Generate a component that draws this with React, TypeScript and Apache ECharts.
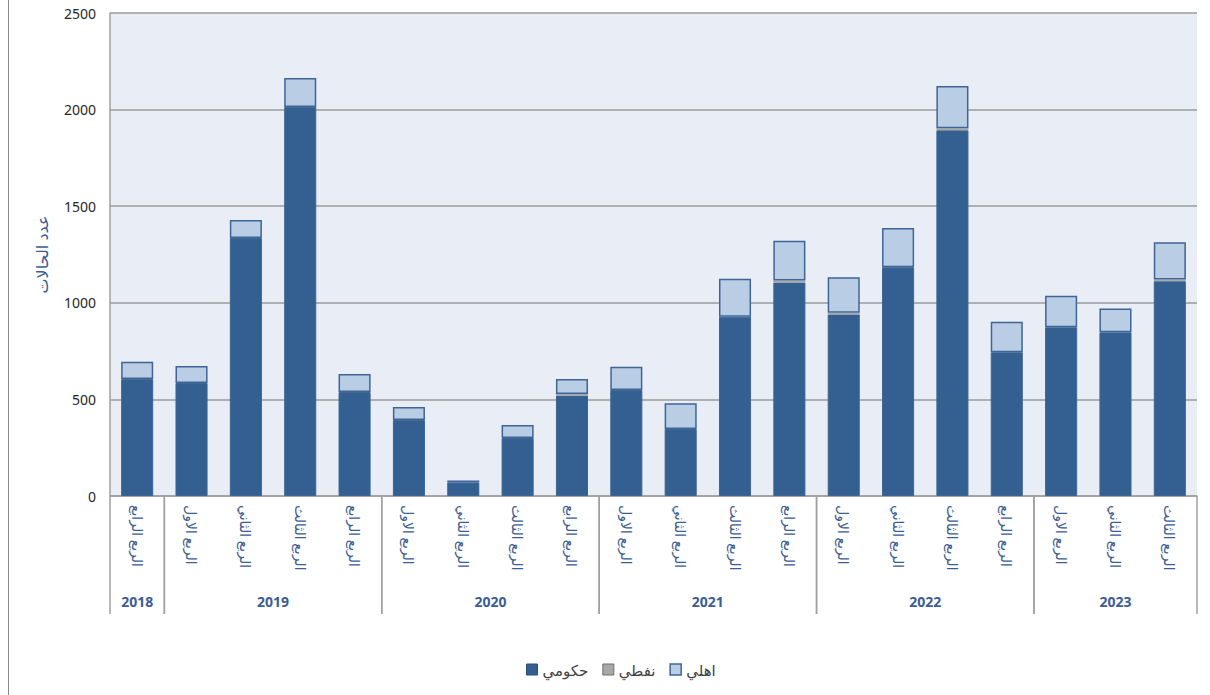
import React, { useEffect, useRef } from "react";
import * as echarts from "echarts";

const quarters = [
  "الربع الرابع",
  "الربع الاول", "الربع الثاني", "الربع الثالث", "الربع الرابع",
  "الربع الاول", "الربع الثاني", "الربع الثالث", "الربع الرابع",
  "الربع الاول", "الربع الثاني", "الربع الثالث", "الربع الرابع",
  "الربع الاول", "الربع الثاني", "الربع الثالث", "الربع الرابع",
  "الربع الاول", "الربع الثاني", "الربع الثالث",
];
const years = ["2018", "2019", "2020", "2021", "2022", "2023"];
const quartersPerYear = [1, 4, 4, 4, 4, 3];

const government = [605, 585, 1335, 2013, 538, 393, 70, 300, 520, 549, 347, 928, 1105, 940, 1184, 1893, 744, 873, 847, 1112];
const oil = [0, 0, 0, 0, 0, 0, 0, 0, 8, 0, 0, 0, 10, 8, 0, 10, 0, 0, 0, 8];
const privateSector = [90, 88, 93, 150, 93, 68, 10, 67, 77, 120, 133, 197, 206, 184, 203, 219, 158, 164, 124, 193];

const yTicks = { min: 0, max: 2500, interval: 500 };

const FONT = "'Noto Sans', 'DejaVu Sans', sans-serif";
const BLUE_TEXT = "#3b5d93";

export default function App() {
  const ref = useRef<HTMLDivElement>(null);
  useEffect(() => {
    if (!ref.current) return;
    const chart = echarts.init(ref.current, undefined, { renderer: "svg" });

    const groups: number[][] = [];
    let idx = 0;
    quartersPerYear.forEach((n, i) => {
      groups.push([idx, idx + n - 1, 0, i]);
      idx += n;
    });

    chart.setOption({
      animation: false,
      textStyle: { fontFamily: FONT },
      grid: {
        left: 110,
        right: 13,
        top: 13,
        bottom: 199,
        show: true,
        backgroundColor: "#e9edf5",
        borderWidth: 0,
      },
      legend: {
        data: [
          { name: "حكومي", itemStyle: { borderColor: "#2c4f7a", borderWidth: 1 } },
          { name: "نفطي", itemStyle: { borderColor: "#6f6f6f", borderWidth: 1 } },
          { name: "اهلي", itemStyle: { borderColor: "#3f6597", borderWidth: 1.5 } },
        ],
        left: 521,
        top: 657,
        itemWidth: 11,
        itemHeight: 11,
        itemGap: 14,
        icon: "rect",
        textStyle: { fontSize: 15, color: "#404040", fontFamily: FONT },
      },
      graphic: [
        {
          type: "line",
          shape: { x1: 8.5, y1: 0, x2: 8.5, y2: 695 },
          style: { stroke: "#8c8c8c", lineWidth: 1 },
        },
      ],
      xAxis: {
        type: "category",
        data: quarters,
        axisLine: { show: true, lineStyle: { color: "#a0a0a0", width: 1.5 } },
        axisTick: { show: false },
        axisLabel: {
          rotate: -90,
          interval: 0,
          margin: 9,
          fontSize: 14,
          color: BLUE_TEXT,
          fontFamily: FONT,
        },
      },
      yAxis: {
        type: "value",
        min: yTicks.min,
        max: yTicks.max,
        interval: yTicks.interval,
        name: "عدد الحالات",
        nameLocation: "middle",
        nameGap: 60,
        nameRotate: 90,
        nameTextStyle: { fontSize: 16, color: BLUE_TEXT, fontFamily: FONT },
        axisLine: { show: true, lineStyle: { color: "#a0a0a0", width: 1.5 } },
        axisTick: { show: false },
        axisLabel: {
          fontSize: 14,
          color: "#262626",
          margin: 14,
          fontFamily: FONT,
          formatter: (v: number) => String(v),
        },
        splitLine: { show: true, lineStyle: { color: "#9a9a9a", width: 1.5 } },
      },
      series: [
        {
          name: "حكومي",
          type: "bar",
          stack: "total",
          data: government,
          barWidth: "59%",
          itemStyle: { color: "#345f91", borderColor: "#3d6593", borderWidth: 1 },
        },
        {
          name: "نفطي",
          type: "bar",
          stack: "total",
          data: oil,
          barWidth: "59%",
          itemStyle: { color: "#a8a8a8", borderWidth: 0 },
        },
        {
          name: "اهلي",
          type: "bar",
          stack: "total",
          data: privateSector,
          barWidth: "59%",
          itemStyle: { color: "#b9cde5", borderColor: "#3f6597", borderWidth: 1.5 },
        },
        {
          type: "custom",
          silent: true,
          clip: false,
          z: 5,
          encode: { x: 0, y: 2 },
          data: groups,
          renderItem: (params: any, api: any) => {
            const s = api.value(0);
            const e = api.value(1);
            const yi = api.value(3);
            const bw = api.size([1, 0])[0];
            const p0 = api.coord([s, 0]);
            const p1 = api.coord([e, 0]);
            const x0 = p0[0] - bw / 2;
            const x1 = p1[0] + bw / 2;
            const y0 = p0[1];
            return {
              type: "group",
              children: [
                {
                  type: "line",
                  shape: { x1: x0, y1: y0, x2: x0, y2: y0 + 118 },
                  style: { stroke: "#a0a0a0", lineWidth: 1.5 },
                },
                {
                  type: "line",
                  shape: { x1: x1, y1: y0, x2: x1, y2: y0 + 118 },
                  style: { stroke: "#a0a0a0", lineWidth: 1.5 },
                },
                {
                  type: "text",
                  x: (x0 + x1) / 2,
                  y: y0 + 105,
                  style: {
                    text: years[yi],
                    align: "center",
                    verticalAlign: "middle",
                    fontSize: 14,
                    fontWeight: "bold",
                    fill: BLUE_TEXT,
                    fontFamily: FONT,
                  },
                },
              ],
            };
          },
        },
      ],
    });
    return () => chart.dispose();
  }, []);
  return (
    <div
      ref={ref}
      style={{ position: "fixed", left: 0, top: 0, width: 1210, height: 695, background: "#ffffff" }}
    />
  );
}
